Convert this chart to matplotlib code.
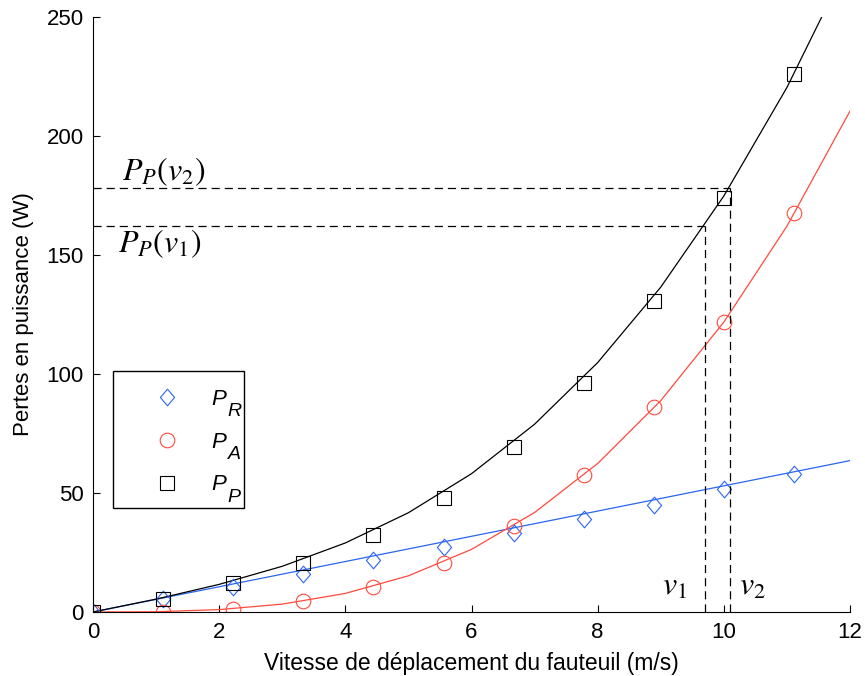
import matplotlib
matplotlib.use("Agg")
import matplotlib.pyplot as plt
from matplotlib.path import Path
from matplotlib.patches import Rectangle

plt.rcParams['font.family'] = ['Liberation Sans', 'DejaVu Sans']

# modelled curves, sampled every 1 m/s
v_line = [0, 1, 2, 3, 4, 5, 6, 7, 8, 9, 10, 11, 12]
pr_line = [0, 5.3, 10.6, 15.9, 21.2, 26.5, 31.8, 37.1, 42.4, 47.7, 53.0, 58.3, 63.6]
pa_line = [0, 0.1, 1.0, 3.3, 7.8, 15.2, 26.3, 41.8, 62.4, 88.8, 121.8, 162.1, 210.5]
pp_line = [0, 5.4, 11.6, 19.2, 29.0, 41.7, 58.1, 78.9, 104.8, 136.5, 174.8, 220.4, 274.1]

# measured points (every 4 km/h)
v_pts = [0, 1.11, 2.22, 3.33, 4.44, 5.56, 6.67, 7.78, 8.89, 10.0, 11.11]
pr_pts = [0, 5.3, 10.6, 15.8, 21.8, 27.4, 33.1, 39.1, 45.0, 51.7, 58.0]
pa_pts = [0, 0.2, 1.1, 4.6, 10.6, 20.7, 36.1, 57.6, 86.3, 122.0, 167.5]
pp_pts = [0, 5.5, 12.2, 20.7, 32.4, 47.8, 69.2, 96.1, 130.7, 173.8, 226.0]

legend_subs = ['R', 'A', 'P']

v1, v2 = 9.7, 10.1
pp_v1, pp_v2 = 162, 178

blue = '#2a66f2'
red = '#ff4a3c'

# slightly tall diamond
diamond = Path([(0, 1), (0.85, 0), (0, -1), (-0.85, 0), (0, 1)],
               [Path.MOVETO, Path.LINETO, Path.LINETO, Path.LINETO, Path.CLOSEPOLY])

fig = plt.figure(figsize=(8.65, 6.76), dpi=100)
ax = fig.add_axes([0.1075, 0.0947, 0.8752, 0.8802])

ax.plot(v_line, pr_line, color=blue, lw=0.9)
ax.plot(v_line, pa_line, color=red, lw=0.9)
ax.plot(v_line, pp_line, color='black', lw=0.9)

h_r, = ax.plot(v_pts, pr_pts, ls='none', marker=diamond, ms=12, mfc='none',
               mec=blue, mew=0.8)
h_a, = ax.plot(v_pts, pa_pts, ls='none', marker='o', ms=10.5, mfc='none',
               mec=red, mew=0.8)
h_p, = ax.plot(v_pts, pp_pts, ls='none', marker='s', ms=10.2, mfc='none',
               mec='black', mew=0.8)

# reading P_P at v1 and v2
dash = dict(color='black', lw=0.9, dashes=(6.5, 4))
ax.plot([0, v2], [pp_v2, pp_v2], **dash)
ax.plot([v2, v2], [0, pp_v2], **dash)
ax.plot([0, v1], [pp_v1, pp_v1], **dash)
ax.plot([v1, v1], [0, pp_v1], **dash)

mt = dict(fontsize=23, math_fontfamily='stix', va='baseline')
ax.text(0.46, 181.2, r'$P_P(v_2)$', ha='left', **mt)
ax.text(0.40, 151.0, r'$P_P(v_1)$', ha='left', **mt)
ax.text(9.21, 7.1, r'$v_1$', ha='center', **mt)
ax.text(10.45, 7.1, r'$v_2$', ha='center', **mt)

ax.set_xlim(0, 12)
ax.set_ylim(0, 250)
ax.set_xticks(range(0, 13, 2))
ax.set_yticks(range(0, 251, 50))
ax.spines['top'].set_visible(False)
ax.spines['right'].set_visible(False)
ax.tick_params(direction='in', length=5, labelsize=16, width=0.8)
ax.tick_params(axis='x', pad=7.5)
ax.tick_params(axis='y', pad=6.5)
ax.set_xlabel('Vitesse de déplacement du fauteuil (m/s)', fontsize=16.5, labelpad=6)
ax.set_ylabel('Pertes en puissance (W)', fontsize=16, labelpad=9)

# legend frame drawn separately so it leaves room for the subscripts
box = Rectangle((0.0264, 0.1748), 0.1731, 0.2302, transform=ax.transAxes,
                facecolor='white', edgecolor='black', lw=1.0, zorder=4.5)
ax.add_patch(box)

leg = ax.legend(handles=[h_r, h_a, h_p], labels=['P'] * 3, loc='upper left',
                bbox_to_anchor=(0.0264, 0.405), fontsize=16, frameon=False,
                handlelength=3.3, labelspacing=0.98, borderpad=0.8,
                handletextpad=0.34, borderaxespad=0)

# MATLAB-style subscripts next to each legend P
for txt, sub in zip(leg.get_texts(), legend_subs):
    txt.set_fontstyle('italic')
    ax.annotate(sub, xy=(0, 0), xycoords=txt, xytext=(11.4, -4.5),
                textcoords='offset points', fontsize=14, fontstyle='italic',
                ha='left', va='baseline', zorder=6)

fig.savefig('out.png', dpi=100)
